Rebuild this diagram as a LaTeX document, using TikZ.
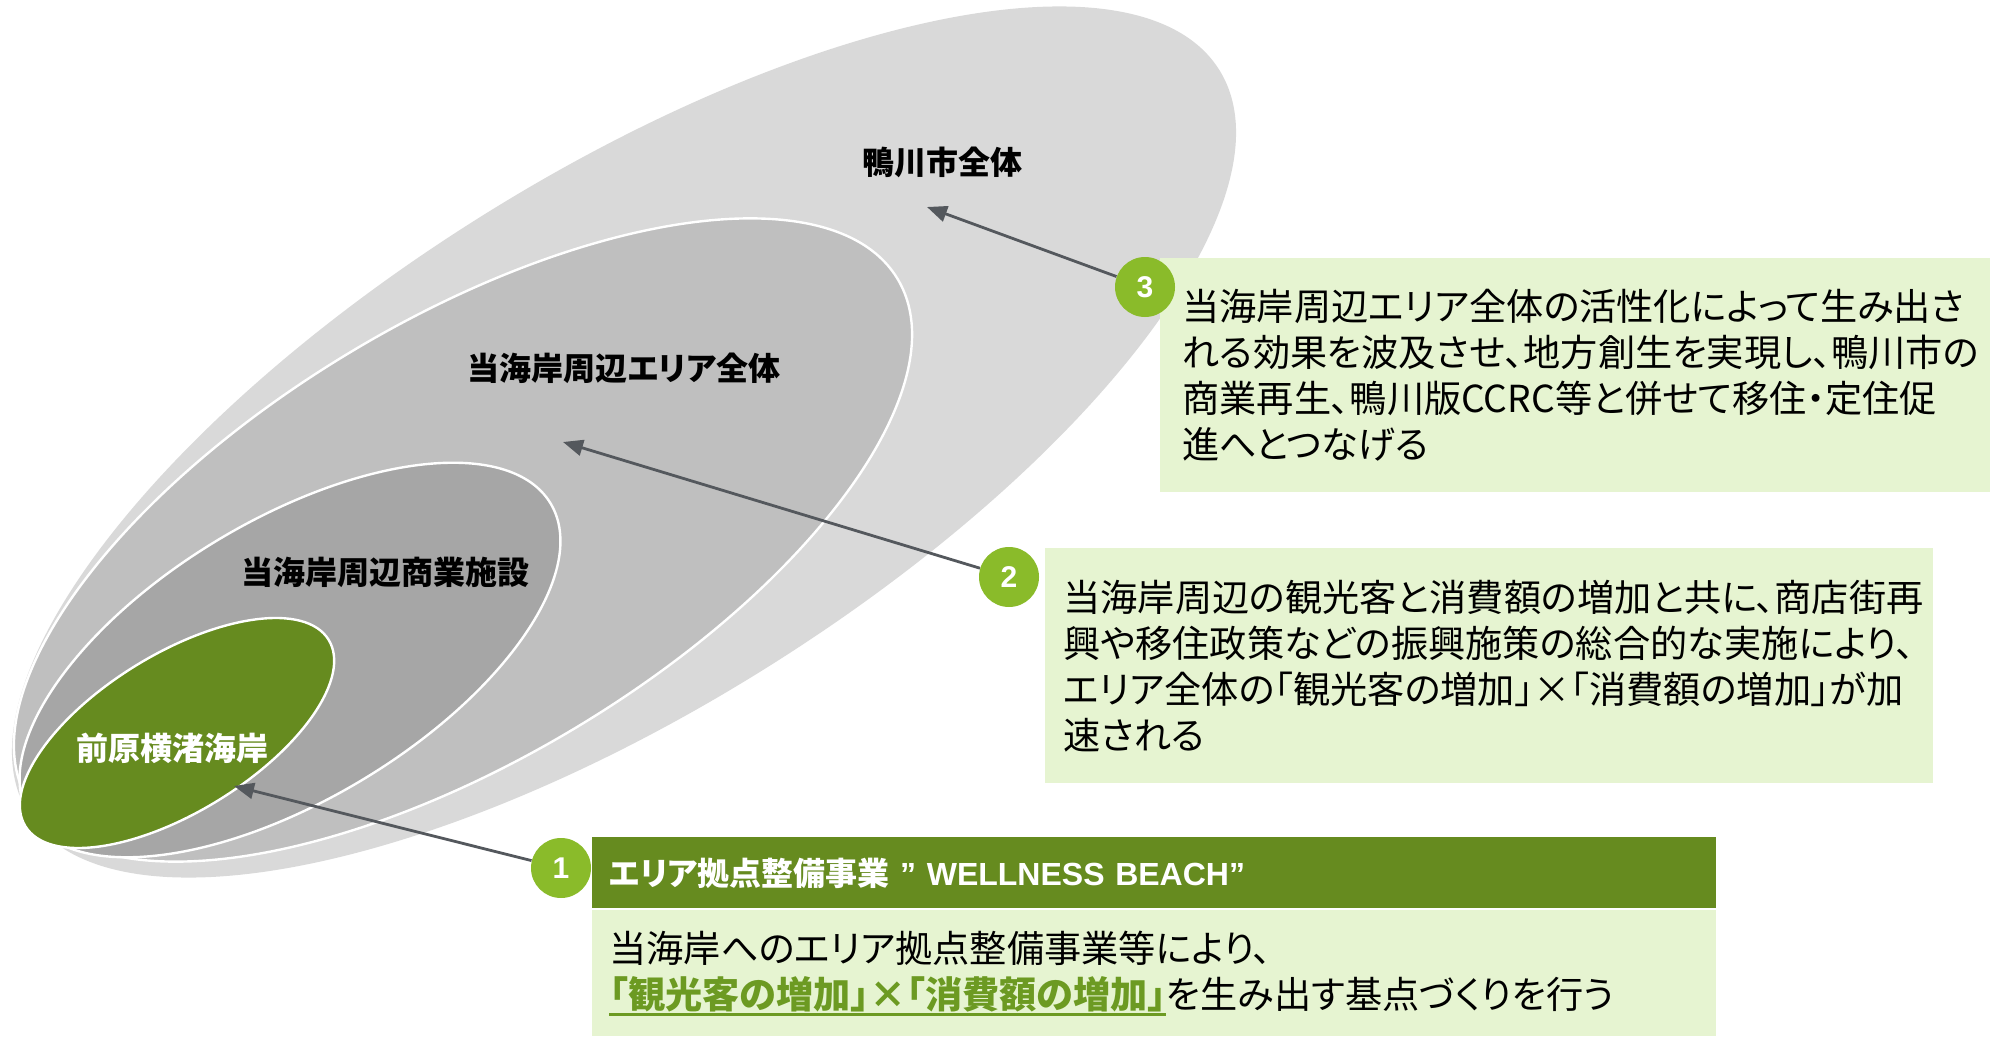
\documentclass[tikz,border=0pt]{standalone}
\usepackage{fontspec}
\usepackage{xcolor}
\setmainfont{Liberation Sans}
\newfontfamily\jp[RawFeature=+palt]{Noto Sans CJK JP}
\usetikzlibrary{arrows.meta}
\definecolor{grayA}{HTML}{D9D9D9}
\definecolor{grayB}{HTML}{BFBFBF}
\definecolor{grayC}{HTML}{A6A6A6}
\definecolor{beachgreen}{HTML}{668B1F}
\definecolor{dotgreen}{HTML}{8ABB2A}
\definecolor{notegreen}{HTML}{E6F4D1}
\definecolor{pointgray}{HTML}{54585D}
\definecolor{ulgreen}{HTML}{6C9A22}
\newcommand\greenul[1]{{\color{ulgreen}\bfseries\setbox0\hbox{#1}\rlap{\rule[-3.5pt]{\wd0}{1.1pt}}\box0}}

\begin{document}
\begin{tikzpicture}[x=0.5pt,y=-0.5pt,
  ring/.style={draw=white,line width=1.2pt},
  zone/.style={font=\jp\bfseries\fontsize{16}{16}\selectfont},
  numdot/.style={circle,fill=dotgreen,text=white,minimum size=30pt,inner sep=0pt,font=\bfseries\fontsize{15}{15}\selectfont},
  notebox/.style={fill=notegreen,anchor=north west,align=left,inner ysep=0pt,font=\jp\fontsize{18.6}{23}\selectfont},
  pointer/.style={draw=pointgray,line width=1.4pt,-{Triangle[length=10pt,width=8pt]}}]
\useasboundingbox (0,0) rectangle (1997,1038);
\fill[grayA,rotate around={32:(624,442)}] (624,442) ellipse [x radius=702,y radius=267];
\filldraw[fill=grayB,ring,rotate around={31:(463,540)}] (463,540) ellipse [x radius=507,y radius=219];
\filldraw[fill=grayC,ring,rotate around={31:(290,660)}] (290,660) ellipse [x radius=304,y radius=140];
\filldraw[fill=beachgreen,ring,rotate around={31.6:(177,733)}] (177,733) ellipse [x radius=178,y radius=79];

\node[zone] (city) at (942,162) {鴨川市全体};
\node[zone] (area) at (624,368) {当海岸周辺エリア全体};
\node[zone] (shops) at (385,572) {当海岸周辺商業施設};
\node[zone,text=white] (beach) at (172,748) {前原横渚海岸};

\node[notebox,text width=393pt,inner xsep=11pt,minimum height=117pt] (note3) at (1160,258)
  {当海岸周辺エリア全体の活性化によって生み出さ\\れる効果を波及させ、地方創生を実現し、鴨川市の\\商業再生、鴨川版CCRC等と併せて移住・定住促\\進へとつなげる};
\node[notebox,text width=426pt,inner xsep=9pt,minimum height=117.5pt] (note2) at (1045,548)
  {当海岸周辺の観光客と消費額の増加と共に、商店街再\\興や移住政策などの振興施策の総合的な実施により、\\エリア全体の「観光客の増加」×「消費額の増加」が加\\速される};
\node[fill=beachgreen,anchor=north west,align=left,text width=545pt,inner xsep=8.5pt,inner ysep=0pt,minimum height=35.5pt,text=white,font=\bfseries\fontsize{16}{16}\selectfont] (head1) at (592,837)
  {{\jp エリア拠点整備事業} ” WELLNESS BEACH”};
\node[notebox,text width=545pt,inner xsep=8.5pt,minimum height=63pt] (note1) at (592,910)
  {当海岸へのエリア拠点整備事業等により、\\\mbox{\greenul{「観光客の増加」×「消費額の増加」}を生み出す基点づくりを行う}};

\node[numdot] (n3) at (1145,287) {3};
\node[numdot] (n2) at (1009,577) {2};
\node[numdot] (n1) at (561,868) {1};
\coordinate (tip3) at (927,207);
\coordinate (tip2) at (563,442);
\coordinate (tip1) at (234,786);
\draw[pointer] (n3) -- (tip3);
\draw[pointer] (n2) -- (tip2);
\draw[pointer] (n1) -- (tip1);
\end{tikzpicture}
\end{document}
